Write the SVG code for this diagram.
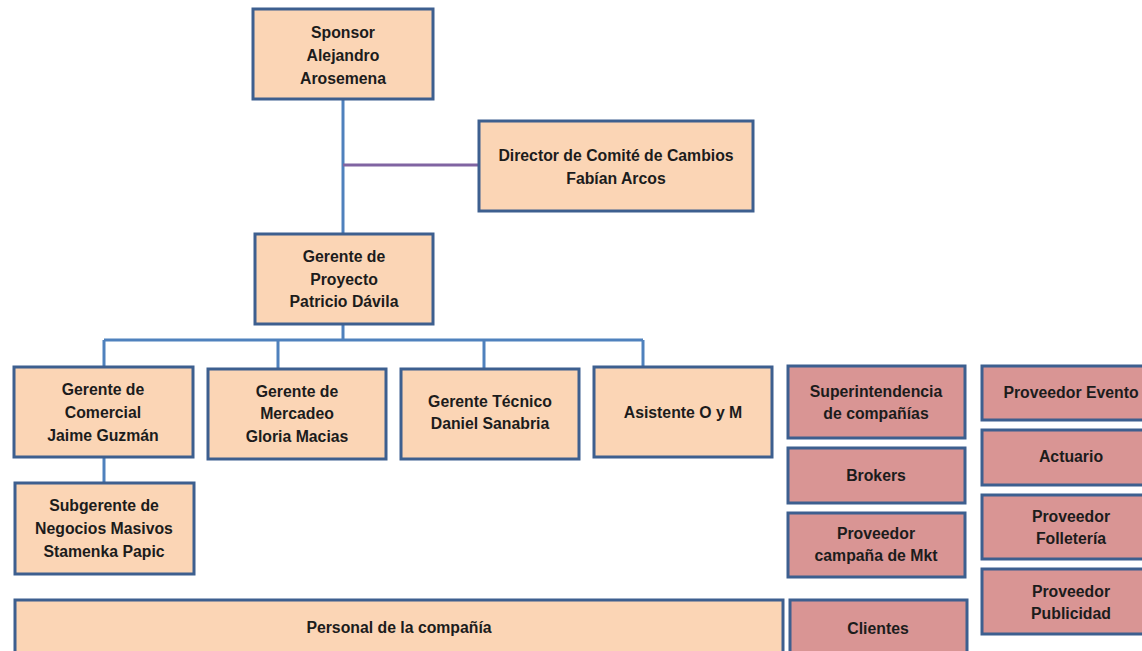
<svg xmlns="http://www.w3.org/2000/svg" width="1142" height="651" viewBox="0 0 1142 651">
<style>
.o{fill:#fbd5b5;stroke:#3d5f8f;stroke-width:3}
.r{fill:#d99594;stroke:#3d5f8f;stroke-width:3}
text{font-family:"Liberation Sans",Arial,sans-serif;font-weight:bold;font-size:15.8px;fill:#1c1c1c;text-anchor:middle}
.c{stroke:#4f81bd;stroke-width:3;fill:none}
.p{stroke:#8064a2;stroke-width:3;fill:none}
</style>
<rect width="1142" height="651" fill="#fff"/>
<g id="connectors">
<path class="c" d="M343 99V234"/>
<path class="p" d="M343 165H479"/>
<path class="c" d="M343 324V340M104 340H643M104 340V367M278 340V369M484 340V369M643 340V367"/>
<path class="c" d="M104 457V483"/>
</g>
<g id="sponsor"><rect class="o" x="253" y="9" width="180" height="90"/><text x="343" y="38">Sponsor</text><text x="343" y="61">Alejandro</text><text x="343" y="84">Arosemena</text></g>
<g id="director"><rect class="o" x="479" y="121" width="274" height="90"/><text x="616" y="161">Director de Comité de Cambios</text><text x="616" y="184">Fabían Arcos</text></g>
<g id="proyecto"><rect class="o" x="255" y="234" width="178" height="90"/><text x="344" y="262">Gerente de</text><text x="344" y="285">Proyecto</text><text x="344" y="307">Patricio Dávila</text></g>
<g id="comercial"><rect class="o" x="14" y="367" width="179" height="90"/><text x="103" y="395">Gerente de</text><text x="103" y="418">Comercial</text><text x="103" y="441">Jaime Guzmán</text></g>
<g id="mercadeo"><rect class="o" x="208" y="369" width="178" height="90"/><text x="297" y="397">Gerente de</text><text x="297" y="419">Mercadeo</text><text x="297" y="442">Gloria Macias</text></g>
<g id="tecnico"><rect class="o" x="401" y="369" width="178" height="90"/><text x="490" y="407">Gerente Técnico</text><text x="490" y="429">Daniel Sanabria</text></g>
<g id="asistente"><rect class="o" x="594" y="367" width="178" height="90"/><text x="683" y="418">Asistente O y M</text></g>
<g id="subgerente"><rect class="o" x="15" y="483" width="179" height="91"/><text x="104" y="511">Subgerente de</text><text x="104" y="534">Negocios Masivos</text><text x="104" y="557">Stamenka Papic</text></g>
<g id="personal"><rect class="o" x="15" y="600" width="768" height="60"/><text x="399" y="633">Personal de la compañía</text></g>
<g id="superintendencia"><rect class="r" x="788" y="366" width="177" height="72"/><text x="876" y="397">Superintendencia</text><text x="876" y="419">de compañías</text></g>
<g id="brokers"><rect class="r" x="788" y="448" width="177" height="55"/><text x="876" y="481">Brokers</text></g>
<g id="campana"><rect class="r" x="788" y="513" width="177" height="64"/><text x="876" y="539">Proveedor</text><text x="876" y="561">campaña de Mkt</text></g>
<g id="clientes"><rect class="r" x="790" y="600" width="177" height="60"/><text x="878" y="634">Clientes</text></g>
<g id="evento"><rect class="r" x="982" y="366" width="180" height="54"/><text x="1071" y="398">Proveedor Evento</text></g>
<g id="actuario"><rect class="r" x="982" y="430" width="180" height="55"/><text x="1071" y="462">Actuario</text></g>
<g id="folleteria"><rect class="r" x="982" y="495" width="180" height="64"/><text x="1071" y="522">Proveedor</text><text x="1071" y="544">Folletería</text></g>
<g id="publicidad"><rect class="r" x="982" y="569" width="180" height="65"/><text x="1071" y="597">Proveedor</text><text x="1071" y="619">Publicidad</text></g>
</svg>
